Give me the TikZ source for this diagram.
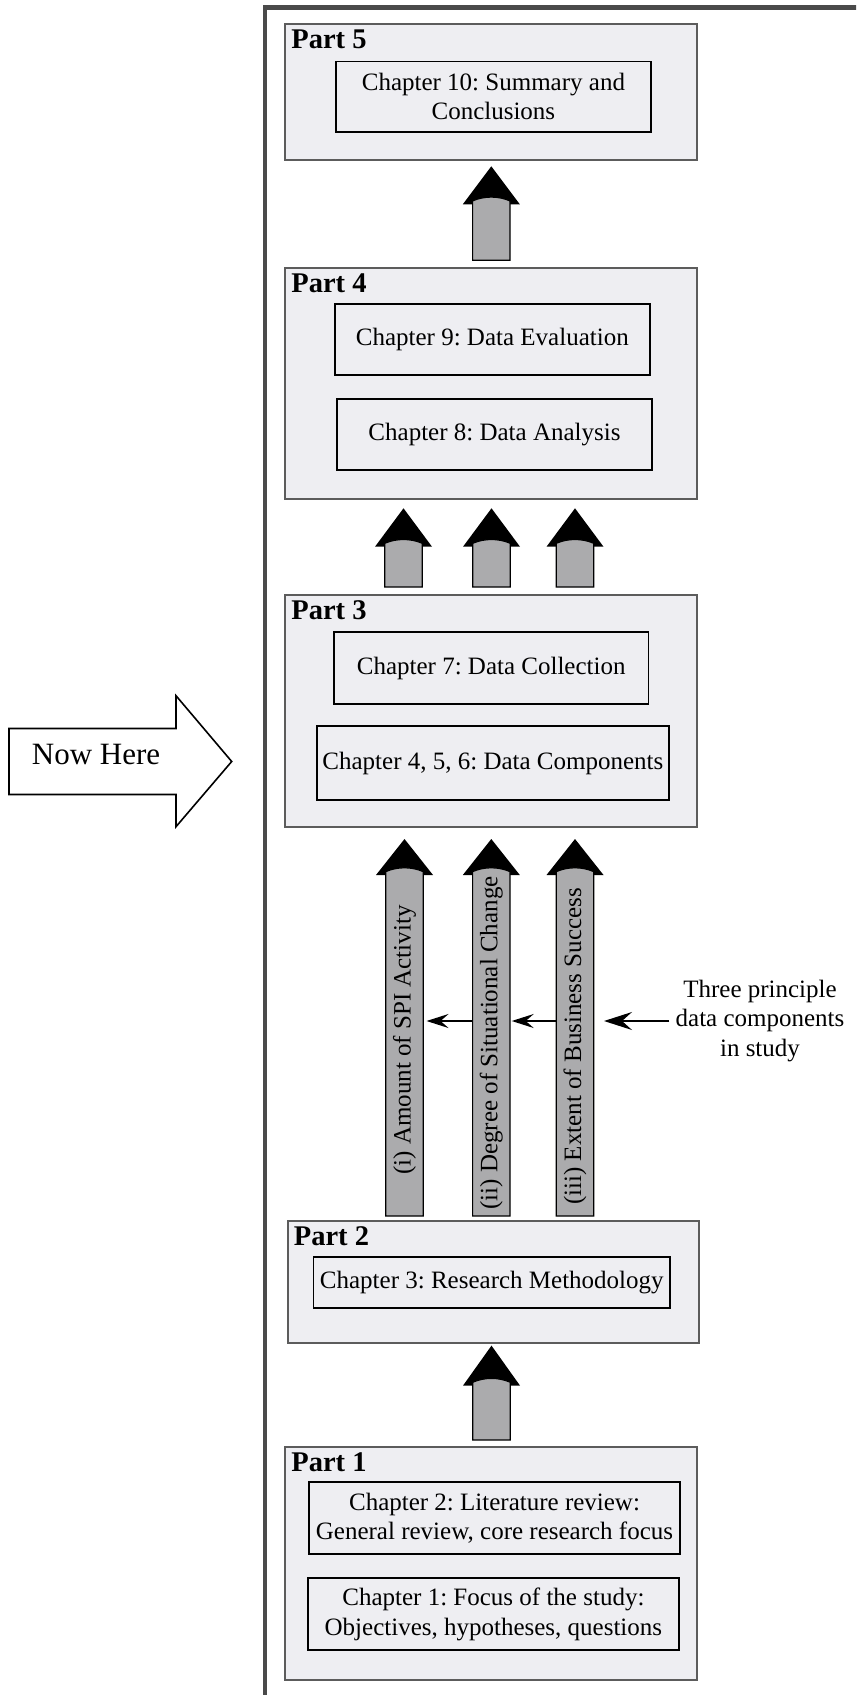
\documentclass[tikz,border=0pt]{standalone}
\usepackage{fontspec}
\setmainfont{Liberation Serif}
\usetikzlibrary{arrows.meta}
\frenchspacing

\definecolor{panelfill}{HTML}{EEEEF2}
\definecolor{panelline}{HTML}{5C5C5C}
\definecolor{shaftfill}{HTML}{ABABAD}
\definecolor{framecol}{HTML}{4A4A4A}

\newcommand\ChapSize{\fontsize{12.5}{14.75}\selectfont}
\newcommand\PartSize{\fontsize{14.25}{17}\selectfont\bfseries}
\newcommand\PointerSize{\fontsize{15.5}{18}\selectfont}

\tikzset{
  partbox/.style={draw=panelline, line width=1pt, fill=panelfill, inner sep=0pt},
  chapbox/.style={draw=black, line width=0.9pt, inner sep=0pt, align=center, font=\ChapSize},
  partlabel/.style={anchor=base west, inner sep=0pt, font=\PartSize},
  shafttext/.style={rotate=90, inner sep=0pt, font=\ChapSize},
  notetext/.style={align=center, inner sep=0pt, font=\ChapSize},
  bigptr/.style={line width=0.7pt, -{Stealth[length=14pt, width=9pt, inset=5pt]}},
  smallptr/.style={line width=0.7pt, -{Stealth[length=11pt, width=7pt, inset=4pt]}},
  pointerbox/.style={draw=black, line width=0.8pt, fill=white, line join=miter},
  % upward block arrow: black head above a grey shaft; args = head height / shaft length
  pics/upblock/.style args={#1/#2}{code={
      \fill[black] (-28.5,0) -- (0,-#1) -- (28.5,0) -- cycle;
      \filldraw[fill=shaftfill, draw=black, line width=0.6pt]
        (-18.7,#2) -- (-18.7,-3.4) .. controls (-7,-8.5) and (7,-8.5) .. (18.7,-3.4)
        -- (18.7,#2) -- cycle;
  }},
}

\begin{document}
\begin{tikzpicture}[x=0.5pt, y=-0.5pt]
\useasboundingbox (0,0) rectangle (856,1695);
\clip (0,0) rectangle (856,1695);
\fill[white] (0,0) rectangle (856,1695);

% outer frame (runs off the page to the right and bottom)
\draw[framecol, line width=2.25pt] (265,1730) -- (265,7.5) -- (900,7.5);

% ---- parts ----
\node[partbox, minimum width=206pt, minimum height=68pt]    (p5) at (491,92) {};
\node[partbox, minimum width=206pt, minimum height=115.5pt] (p4) at (491,383.8) {};
\node[partbox, minimum width=206pt, minimum height=116.1pt] (p3) at (491,710.7) {};
\node[partbox, minimum width=205.9pt, minimum height=60.6pt] (p2) at (493.4,1281.9) {};
\node[partbox, minimum width=205.9pt, minimum height=116.4pt] (p1) at (490.9,1563.7) {};

\foreach \p/\t in {p5/Part 5, p4/Part 4, p3/Part 3, p2/Part 2, p1/Part 1}
  \node[partlabel] (\p lbl) at ([xshift=3.5pt, yshift=-12.8pt]\p.north west) {\t};

% ---- chapters ----
\node[chapbox, minimum width=157.5pt, minimum height=35.2pt] (c10) at (493.4,96.7)
  {Chapter 10: Summary and\\Conclusions};
\node[chapbox, minimum width=157.3pt, minimum height=35.7pt] (c9) at (492.3,339.4)
  {Chapter 9: Data Evaluation};
\node[chapbox, minimum width=157.3pt, minimum height=35.7pt] (c8) at (494.5,434.5)
  {Chapter 8: Data Analysis};
\node[chapbox, minimum width=157.3pt, minimum height=35.7pt] (c7) at (491.2,668)
  {Chapter 7: Data Collection};
\node[chapbox, minimum width=176.2pt, minimum height=36.8pt] (c456) at (492.9,763)
  {Chapter 4, 5, 6: Data Components};
\node[chapbox, minimum width=178.4pt, minimum height=25.4pt] (c3) at (491.8,1282.4)
  {Chapter 3: Research Methodology};
\node[chapbox, minimum width=185.5pt, minimum height=36pt] (c2) at (494.5,1518.3)
  {Chapter 2: Literature review:\\General review, core research focus};
\node[chapbox, minimum width=185.7pt, minimum height=35.9pt] (c1) at (493.4,1614.2)
  {Chapter 1: Focus of the study:\\Objectives, hypotheses, questions};

% ---- block arrows between parts ----
\pic at (491.3,204.3) {upblock=38/56};
\pic at (403.5,546.7) {upblock=38.4/40.3};
\pic at (491.5,546.7) {upblock=38.4/40.3};
\pic at (575,546.7)   {upblock=38.4/40.3};
\pic at (404.5,875)   {upblock=36/341};
\pic at (491.3,875)   {upblock=36/341};
\pic at (575,875)     {upblock=36/341};
\pic at (491.5,1385.6) {upblock=40/54.4};

% ---- labels inside the long shafts ----
\node[shafttext] (t1) at (404.5,1040) {(i) Amount of SPI Activity};
\node[shafttext] (t2) at (491.3,1043) {(ii) Degree of Situational Change};
\node[shafttext] (t3) at (575,1046.5) {(iii) Extent of Business Success};

% ---- data component note and its pointers ----
\node[notetext] (note) at (760,1021) {Three principle\\data components\\in study};
\coordinate (h1) at (404.5,1021);
\coordinate (h2) at (491.3,1021);
\coordinate (h3) at (575,1021);
\draw[bigptr]   ([xshift=-3pt]note.west) -- ([xshift=14.5pt]h3);
\draw[smallptr] ([xshift=-9.2pt]h3) -- ([xshift=10.2pt]h2);
\draw[smallptr] ([xshift=-9.3pt]h2) -- ([xshift=11pt]h1);

% ---- "Now Here" pointer ----
\draw[pointerbox] (9,728.5) -- (176,728.5) -- (176,695.7) -- (231.7,761.5)
  -- (176,826.7) -- (176,794.5) -- (9,794.5) -- cycle;
\node[anchor=base, inner sep=0pt, font=\PointerSize] (now) at (96,764.5) {Now Here};
\end{tikzpicture}
\end{document}
